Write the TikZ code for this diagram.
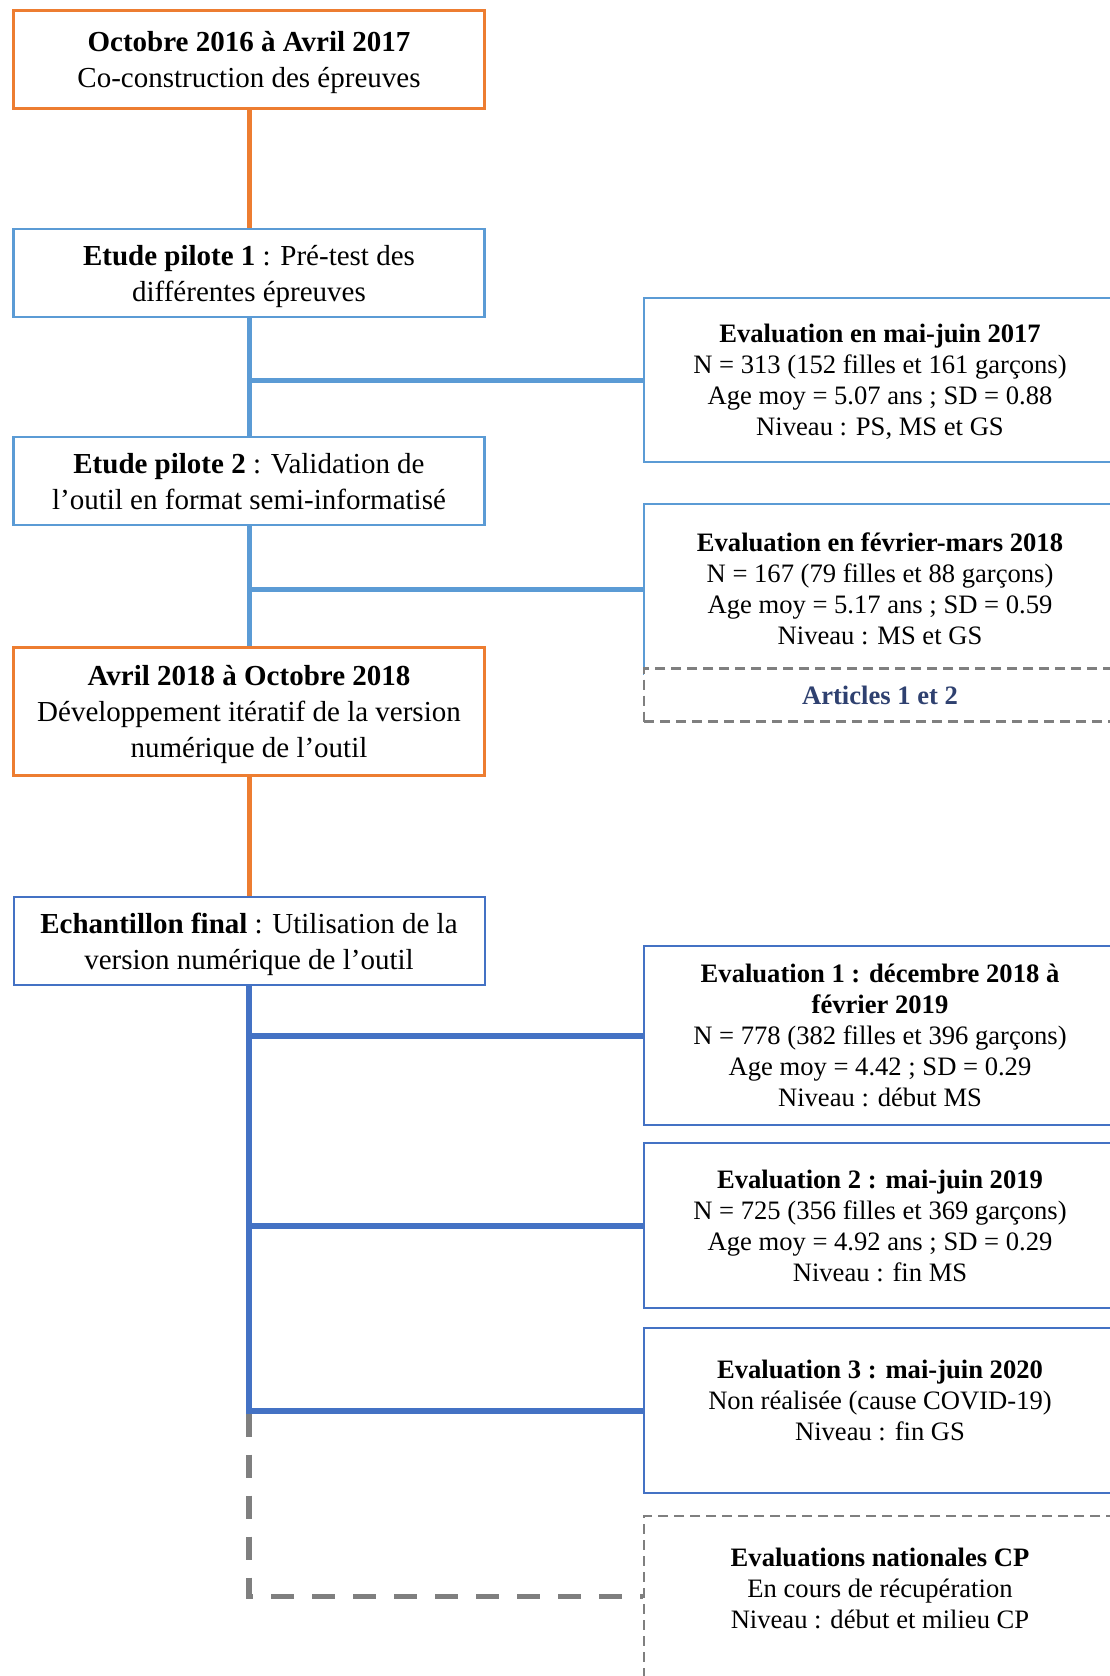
\documentclass[tikz,border=0pt]{standalone}
\usepackage{fontspec}
\setmainfont{Liberation Serif}
\usepackage{tikz}
\usetikzlibrary{calc}
\definecolor{orangeO}{HTML}{ED7D31}
\definecolor{bleuC}{HTML}{5B9BD5}
\definecolor{bleuF}{HTML}{4472C4}
\definecolor{grisT}{HTML}{7F7F7F}
\definecolor{marine}{HTML}{2F4170}

\begin{document}
\begin{tikzpicture}[x=1pt,y=-1pt,
  etape/.style={draw,line width=2.5pt,align=center,minimum width=471pt,
            inner sep=0pt,text depth=-4.5pt,font=\fontsize{29}{36}\selectfont},
  evalbox/.style={draw,line width=2.5pt,align=center,minimum width=472pt,
            inner sep=0pt,font=\fontsize{26.6}{31}\selectfont},
  tiret/.style={draw=grisT,line width=2.5pt,dash pattern=on 10pt off 6pt},
  lien/.style={line width=5pt}]
\useasboundingbox (0,0) rectangle (1110,1676);
% colonne de gauche
\node[etape,draw=orangeO,minimum height=98pt,text depth=0pt] (oct) at (249,59.5)
  {\textbf{Octobre 2016 à Avril 2017}\\Co-construction des épreuves};
\node[etape,draw=bleuC,minimum height=88pt] (pil1) at (249,273)
  {\textbf{Etude pilote 1} : Pré-test des\\différentes épreuves};
\node[etape,draw=bleuC,minimum height=88pt] (pil2) at (249,481)
  {\textbf{Etude pilote 2} : Validation de\\l’outil en format semi-informatisé};
\node[etape,draw=orangeO,minimum height=128pt,text depth=0pt] (avr) at (249,711.5)
  {\textbf{Avril 2018 à Octobre 2018}\\Développement itératif de la version\\numérique de l’outil};
\node[etape,draw=bleuF,line width=2pt,minimum height=88pt] (final) at (249,941)
  {\textbf{Echantillon final} : Utilisation de la\\version numérique de l’outil};
% colonne de droite
\node[evalbox,draw=bleuC,minimum height=164pt,text depth=-6.4pt] (evA) at (880,380)
  {\textbf{Evaluation en mai-juin 2017}\\N = 313 (152 filles et 161 garçons)\\
   Age moy = 5.07 ans ; SD = 0.88\\Niveau : PS, MS et GS};
\node[evalbox,draw=bleuC,minimum height=170pt] (evB) at (880,589)
  {\textbf{Evaluation en février-mars 2018}\\N = 167 (79 filles et 88 garçons)\\
   Age moy = 5.17 ans ; SD = 0.59\\Niveau : MS et GS};
\node[evalbox,tiret,fill=white,minimum height=53pt,text=marine] (art) at (880,695)
  {\textbf{Articles 1 et 2}};
\node[evalbox,draw=bleuF,minimum height=179pt] (evC) at (880,1035.5)
  {\textbf{Evaluation 1 : décembre 2018 à}\\\textbf{février 2019}\\
   N = 778 (382 filles et 396 garçons)\\Age moy = 4.42 ; SD = 0.29\\Niveau : début MS};
\node[evalbox,draw=bleuF,minimum height=165pt] (evD) at (880,1225.5)
  {\textbf{Evaluation 2 : mai-juin 2019}\\N = 725 (356 filles et 369 garçons)\\
   Age moy = 4.92 ans ; SD = 0.29\\Niveau : fin MS};
\node[evalbox,draw=bleuF,minimum height=165pt,text depth=21pt] (evE) at (880,1410.5)
  {\textbf{Evaluation 3 : mai-juin 2020}\\Non réalisée (cause COVID-19)\\
   Niveau : fin GS};
\node[evalbox,tiret,minimum height=184pt,text depth=40pt] (nat) at (880,1608)
  {\textbf{Evaluations nationales CP}\\En cours de récupération\\
   Niveau : début et milieu CP};
\coordinate (coude) at ($(final.south |- evE.west)+(0,186)$);
% liaisons
\draw[lien,orangeO] (oct) -- (pil1);
\draw[lien,bleuC] (pil1) -- (pil2);
\draw[lien,bleuC] (pil1.south |- evA.west) -- (evA.west);
\draw[lien,bleuC] (pil2) -- (avr);
\draw[lien,bleuC] (pil2.south |- evB.west) -- (evB.west);
\draw[lien,orangeO] (avr) -- (final);
\draw[lien,bleuF,line width=6pt] (final.south) -- (final.south |- evE.west) -- (evE.west);
\draw[lien,bleuF,line width=6pt] (final.south |- evC.west) -- (evC.west);
\draw[lien,bleuF,line width=6pt] (final.south |- evD.west) -- (evD.west);
\draw[lien,grisT,line width=5.5pt,dash pattern=on 23pt off 18pt]
  ($(final.south |- evE.west)+(0,3)$) -- (coude) -- (coude -| nat.west);
\end{tikzpicture}
\end{document}
